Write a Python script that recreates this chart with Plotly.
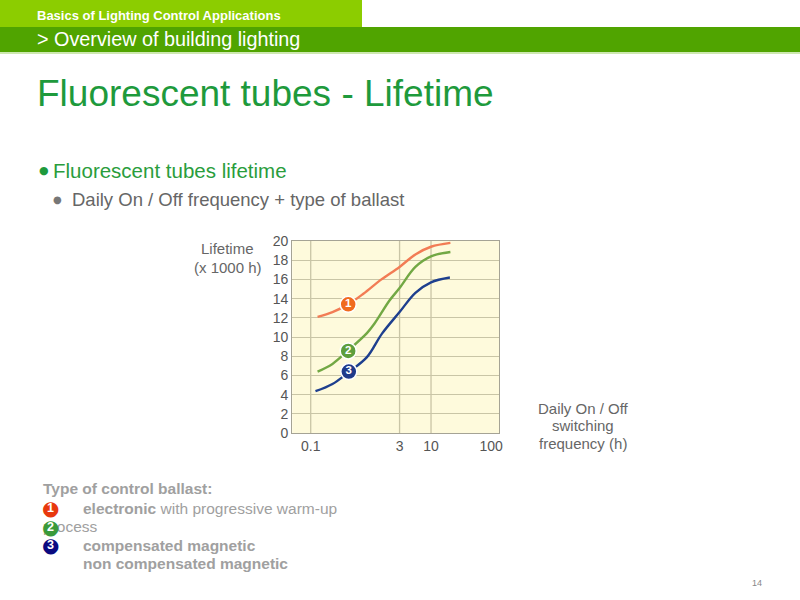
import plotly.graph_objects as go

# ---------------- data ----------------
freq_electronic = [0.13, 0.23, 0.42, 0.75, 1.5, 3.0, 5.5, 10, 21]
life_electronic = [12.1, 12.6, 13.4, 14.5, 16.0, 17.3, 18.6, 19.4, 19.8]

freq_compensated = [0.13, 0.23, 0.42, 0.86, 1.15, 2.04, 3.0, 5.5, 10, 21]
life_compensated = [6.4, 7.2, 8.6, 10.4, 11.4, 13.8, 15.1, 17.3, 18.4, 18.85]

freq_noncomp = [0.12, 0.23, 0.42, 0.86, 1.53, 3.0, 5.5, 10, 20.6]
life_noncomp = [4.35, 5.1, 6.3, 7.9, 10.35, 12.6, 14.6, 15.7, 16.2]

label_freq = [0.42, 0.42, 0.43]
label_life = [13.4, 8.55, 6.4]
label_text = ["<b>1</b>", "<b>2</b>", "<b>3</b>"]

x_tick_vals = [0.1, 3, 10, 100]
x_tick_text = ["0.1", "3", "10", "100"]
x_grid_vals = [0.1, 3, 10]
y_tick_vals = [0, 2, 4, 6, 8, 10, 12, 14, 16, 18, 20]

FONT = "Liberation Sans, Arial, sans-serif"


def px(x):
    return x / 800.0


def py(y):
    return 1 - y / 600.0


fig = go.Figure()

fig.add_trace(go.Scatter(x=freq_electronic, y=life_electronic, mode="lines",
                         line=dict(color="#F27C55", width=2.4, shape="spline"),
                         hoverinfo="skip", showlegend=False))
fig.add_trace(go.Scatter(x=freq_compensated, y=life_compensated, mode="lines",
                         line=dict(color="#72A844", width=2.4, shape="spline"),
                         hoverinfo="skip", showlegend=False))
fig.add_trace(go.Scatter(x=freq_noncomp, y=life_noncomp, mode="lines",
                         line=dict(color="#1E3F8E", width=2.4, shape="spline"),
                         hoverinfo="skip", showlegend=False))
fig.add_trace(go.Scatter(x=label_freq, y=label_life, mode="markers+text",
                         text=label_text, textposition="middle center",
                         textfont=dict(family=FONT, size=11.5, color="white"),
                         marker=dict(size=16, color=["#F06A1E", "#5E9E3C", "#1F3A8A"],
                                     line=dict(color="white", width=1.5)),
                         hoverinfo="skip", showlegend=False))

shapes = []
# header bars
shapes.append(dict(type="rect", xref="paper", yref="paper", x0=px(0), x1=px(362),
                   y0=py(27), y1=py(0), fillcolor="#8CCD00", line=dict(width=0), layer="below"))
shapes.append(dict(type="rect", xref="paper", yref="paper", x0=px(0), x1=px(800),
                   y0=py(52), y1=py(27), fillcolor="#50A400", line=dict(width=0), layer="below"))
shapes.append(dict(type="rect", xref="paper", yref="paper", x0=px(0), x1=px(800),
                   y0=py(54), y1=py(52), fillcolor="#CDE8B0", line=dict(width=0), layer="below"))
# vertical grid lines
for gv in x_grid_vals:
    shapes.append(dict(type="line", xref="x", yref="paper", x0=gv, x1=gv,
                       y0=py(433), y1=py(241), line=dict(color="#C9C5A6", width=1.3),
                       layer="below"))

annotations = []


def txt(x, y, s, size, color, anchor="left", bold=False, family=FONT):
    if bold:
        s = "<b>" + s + "</b>"
    annotations.append(dict(x=px(x), y=py(y), xref="paper", yref="paper", text=s,
                            showarrow=False, xanchor=anchor, yanchor="middle",
                            font=dict(family=family, size=size, color=color)))


txt(35, 15, "Basics of Lighting Control Applications", 13, "white", bold=True)
txt(35, 39, "&gt; Overview of building lighting", 19.8, "white")
txt(35, 93, "Fluorescent tubes - Lifetime", 37, "#1E9A3C")
txt(37, 170, "●", 11, "#1E9A3C", family="DejaVu Sans")
txt(51, 170, "Fluorescent tubes lifetime", 20.5, "#2A9D3C")
txt(51, 199, "●", 10, "#777777", family="DejaVu Sans")
txt(70, 199, "Daily On / Off frequency + type of ballast", 18.5, "#666666")

txt(228, 248, "Lifetime", 15, "#666666", anchor="center")
txt(228, 267, "(x 1000 h)", 15, "#666666", anchor="center")

txt(583, 408, "Daily On / Off", 15, "#666666", anchor="center")
txt(583, 425, "switching", 15, "#666666", anchor="center")
txt(583, 443, "frequency (h)", 15, "#666666", anchor="center")

LG = "#A0A0A0"
txt(41, 489, "Type of control ballast:", 15.5, LG, bold=True)
txt(81, 508, "<b>electronic</b> with progressive warm-up", 15.5, LG)
txt(41, 526, "process", 15.5, LG)
txt(81, 545, "compensated magnetic", 15.5, LG, bold=True)
txt(81, 563, "non compensated magnetic", 15.5, LG, bold=True)

legend_circles = [(508, "#E8380E", "1"), (527, "#3A9A3A", "2"), (545, "#0A0A80", "3")]
for yy, col, n in legend_circles:
    annotations.append(dict(x=px(50), y=py(yy), xref="paper", yref="paper", text="●",
                            showarrow=False, xanchor="center", yanchor="middle",
                            font=dict(family="DejaVu Sans", size=20, color=col)))
    annotations.append(dict(x=px(50.5), y=py(yy), xref="paper", yref="paper",
                            text="<b>" + n + "</b>",
                            showarrow=False, xanchor="center", yanchor="middle",
                            font=dict(family=FONT, size=12.5, color="white")))

txt(757, 583, "14", 9, "#888888", anchor="center")

fig.update_layout(
    width=800, height=600,
    margin=dict(l=0, r=0, t=0, b=0, pad=0),
    paper_bgcolor="white",
    plot_bgcolor="#FEFADC",
    shapes=shapes,
    annotations=annotations,
    showlegend=False,
    xaxis=dict(type="log", range=[-1.306, 2.13], domain=[px(292.3), px(499)],
               tickvals=x_tick_vals, ticktext=x_tick_text, showgrid=False,
               showline=True, mirror=True, linecolor="#A5A395", linewidth=1.2,
               zeroline=False, ticks="", automargin=False,
               tickfont=dict(family=FONT, size=14, color="#555555")),
    yaxis=dict(range=[0, 20], domain=[py(433), py(241)],
               tickvals=y_tick_vals, showgrid=True, gridcolor="#C9C5A6", gridwidth=1.3,
               showline=True, mirror=True, linecolor="#A5A395", linewidth=1.2,
               zeroline=False, ticks="", automargin=False,
               tickfont=dict(family=FONT, size=14, color="#555555")),
)

fig.write_html("out.html", config={"displayModeBar": False},
               post_script="document.body.style.margin='0';document.body.style.padding='0';"
                           "document.documentElement.style.margin='0';")
